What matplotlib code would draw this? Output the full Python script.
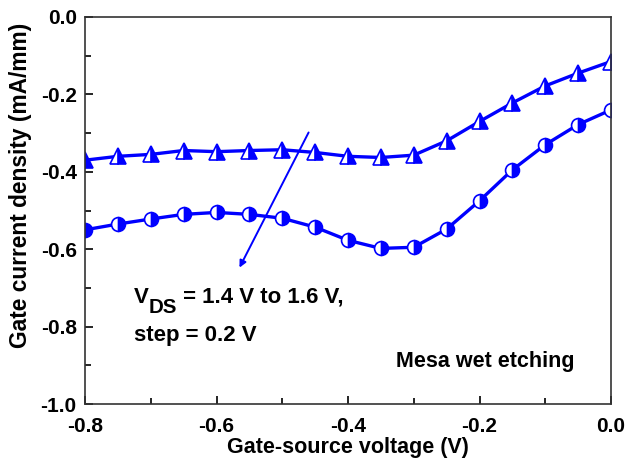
import matplotlib
matplotlib.use("Agg")
import matplotlib.pyplot as plt
from matplotlib.ticker import MultipleLocator
from matplotlib.transforms import offset_copy

plt.rcParams['font.family'] = ['Liberation Sans', 'DejaVu Sans']
plt.rcParams['font.weight'] = 'bold'

vgs = [-0.80, -0.75, -0.70, -0.65, -0.60, -0.55, -0.50, -0.45, -0.40,
       -0.35, -0.30, -0.25, -0.20, -0.15, -0.10, -0.05, 0.00]
ig_tri = [-0.370, -0.360, -0.355, -0.345, -0.348, -0.345, -0.343, -0.350, -0.360,
          -0.363, -0.357, -0.320, -0.270, -0.222, -0.178, -0.145, -0.115]
ig_circ = [-0.550, -0.535, -0.522, -0.510, -0.505, -0.510, -0.520, -0.543, -0.577,
           -0.598, -0.595, -0.548, -0.475, -0.395, -0.330, -0.278, -0.240]

fig = plt.figure(figsize=(6.26, 4.66), dpi=100)
ax = fig.add_axes([85/626, 1-404/466, 526/626, 387/466])

ax.plot(vgs, ig_tri, color='blue', lw=2.4, marker='^', ms=11, fillstyle='right',
        markerfacecolor='blue', markerfacecoloralt='white', markeredgecolor='blue', mew=1.2)
ax.plot(vgs, ig_circ, color='blue', lw=2.4, marker='o', ms=10, fillstyle='right',
        markerfacecolor='blue', markerfacecoloralt='white', markeredgecolor='blue', mew=1.2)

ax.annotate('', xy=(-0.567, -0.654), xytext=(-0.458, -0.292),
            arrowprops=dict(arrowstyle='-|>', color='blue', lw=1.4, mutation_scale=10))

fs_ann = 16
fig.canvas.draw()
renderer = fig.canvas.get_renderer()
t1 = ax.text(-0.7255, -0.739, 'V', fontsize=fs_ann, fontweight='bold', va='baseline', ha='left')
w1 = t1.get_window_extent(renderer).width * 72 / fig.dpi
t2 = ax.text(-0.7255, -0.739, 'DS', fontsize=fs_ann * 0.92, fontweight='bold', va='baseline', ha='left',
             transform=offset_copy(ax.transData, fig=fig, x=w1, y=-7, units='points'))
w2 = t2.get_window_extent(renderer).width * 72 / fig.dpi
ax.text(-0.7255, -0.739, ' = 1.4 V to 1.6 V,', fontsize=fs_ann, fontweight='bold', va='baseline', ha='left',
        transform=offset_copy(ax.transData, fig=fig, x=w1 + w2, y=0, units='points'))
ax.text(-0.7255, -0.837, 'step = 0.2 V', fontsize=fs_ann, fontweight='bold', va='baseline', ha='left')
ax.text(-0.327, -0.904, 'Mesa wet etching', fontsize=15.5, fontweight='bold', va='baseline', ha='left')

ax.set_xlim(-0.8, 0.0)
ax.set_ylim(-1.0, 0.0)
ax.xaxis.set_minor_locator(MultipleLocator(0.1))
ax.yaxis.set_minor_locator(MultipleLocator(0.1))
ax.tick_params(which='both', direction='in', labelsize=15, width=1.2)
ax.tick_params(which='major', length=6)
ax.tick_params(which='minor', length=4)
ax.tick_params(axis='x', which='major', pad=9)
ax.tick_params(axis='y', which='major', pad=6)
ax.set_xticks([-0.8, -0.6, -0.4, -0.2, 0.0])
ax.set_xticklabels(['-0.8', '-0.6', '-0.4', '-0.2', '0.0'])
ax.set_yticks([-1.0, -0.8, -0.6, -0.4, -0.2, 0.0])
ax.set_yticklabels(['-1.0', '-0.8', '-0.6', '-0.4', '-0.2', '0.0'])
for lab in ax.get_xticklabels() + ax.get_yticklabels():
    lab.set_fontweight('bold')
for s in ax.spines.values():
    s.set_linewidth(1.2)
    s.set_color('#333333')

ax.set_xlabel('Gate-source voltage (V)', fontsize=15.5, fontweight='bold', labelpad=1)
ax.set_ylabel('Gate current density (mA/mm)', fontsize=16.4, fontweight='bold')
ax.yaxis.set_label_coords(-0.101, 0.566)

fig.savefig('out.png', dpi=100)
